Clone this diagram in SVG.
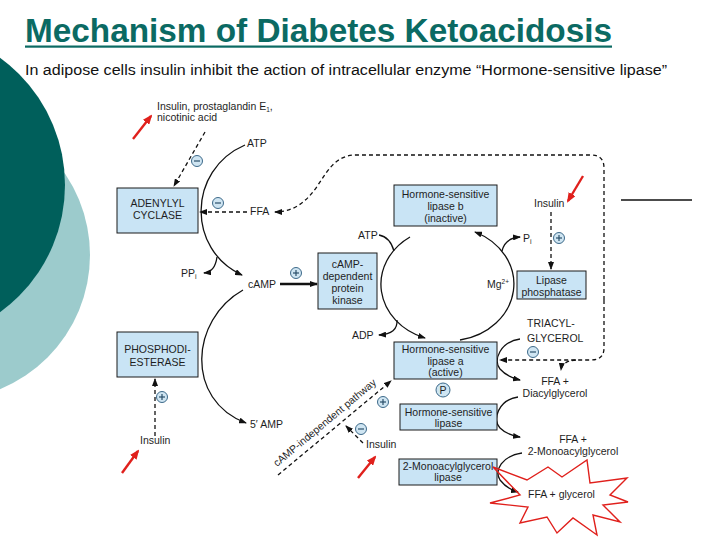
<svg xmlns="http://www.w3.org/2000/svg" xmlns:xlink="http://www.w3.org/1999/xlink" width="728" height="546" viewBox="0 0 728 546">
<style>
.lbl{font-family:"Liberation Sans",Arial,sans-serif;font-size:10.5px;fill:#1e1e1e}
.box{fill:#c9e4f5;stroke:#1a1a1a;stroke-width:1}
.bt{font-family:"Liberation Sans",Arial,sans-serif;font-size:10.5px;fill:#1e1e1e;text-anchor:middle}
.ln{fill:none;stroke:#111;stroke-width:1.3}
.ds{fill:none;stroke:#111;stroke-width:1.3;stroke-dasharray:4 3}
.red{fill:none;stroke:#e0201c;stroke-width:2.4}
</style>
<defs>
<marker id="ah" markerWidth="8" markerHeight="6" refX="7" refY="3" orient="auto" markerUnits="userSpaceOnUse"><path d="M0,0 L8,3 L0,6 z" fill="#111"/></marker>
<marker id="rh" markerWidth="10" markerHeight="8" refX="8" refY="4" orient="auto" markerUnits="userSpaceOnUse"><path d="M0,0 L10,4 L0,8 z" fill="#e0201c"/></marker>
<g id="minus"><circle r="5.5" fill="#cfe5f2" stroke="#3d6a8a" stroke-width="1"/><line x1="-3" y1="0" x2="3" y2="0" stroke="#2b4f6a" stroke-width="1.2"/></g>
<g id="plus"><circle r="5.5" fill="#cfe5f2" stroke="#3d6a8a" stroke-width="1"/><line x1="-3" y1="0" x2="3" y2="0" stroke="#2b4f6a" stroke-width="1.2"/><line x1="0" y1="-3" x2="0" y2="3" stroke="#2b4f6a" stroke-width="1.2"/></g>
</defs>
<rect width="728" height="546" fill="#ffffff"/>
<g id="decor">
<circle cx="-55" cy="255" r="145" fill="#9ccbcc"/>
<circle cx="-92" cy="185" r="157" fill="#005f5b"/>
</g>
<g id="title">
<text x="25" y="42" font-family="'Liberation Sans',Arial,sans-serif" font-size="33" font-weight="bold" fill="#0b6a63" textLength="587" lengthAdjust="spacingAndGlyphs">Mechanism of Diabetes Ketoacidosis</text>
<rect x="25" y="45.5" width="587" height="2.2" fill="#0b6a63"/>
<text x="25" y="75" font-family="'Liberation Sans',Arial,sans-serif" font-size="14" fill="#111" textLength="642" lengthAdjust="spacingAndGlyphs">In adipose cells insulin inhibit the action of intracellular enzyme “Hormone-sensitive lipase”</text>
</g>
<g id="connectors">
<path class="ln" d="M245,145 C187,170 187,250 242,275" marker-end="url(#ah)"/>
<path class="ln" d="M217,257 Q215,272 204,273" marker-end="url(#ah)"/>
<path class="ln" d="M243,290 C190,320 185,400 246,423" marker-end="url(#ah)"/>
<line x1="280" y1="284" x2="317" y2="284" stroke="#111" stroke-width="2.6" marker-end="url(#ah)"/>
<path class="ds" d="M205,132 L174,186" marker-end="url(#ah)"/>
<path class="ds" d="M247,212 L200,212" marker-end="url(#ah)"/>
<path class="ds" d="M604,300 L604,168 Q604,155 591,155 L356,155 C336,155 328,170 318,185 C308,200 295,212 275,212" marker-end="url(#ah)"/>
<path class="ds" d="M604,300 L604,348 Q604,360 591,360 L500,360" marker-end="url(#ah)"/>
<path class="ds" d="M576,360 Q562,361 561,370" marker-end="url(#ah)"/>
<path class="ds" d="M551,212 L551,269" marker-end="url(#ah)"/>
<path class="ln" d="M410,237 A66,57 0 0,0 425,338" marker-end="url(#ah)"/>
<path class="ln" d="M460,340 A66,57 0 0,0 475,232" marker-end="url(#ah)"/>
<path class="ln" d="M379,235 Q390,237 394,251"/>
<path class="ln" d="M502,251 Q505,238 520,237" marker-end="url(#ah)"/>
<path class="ln" d="M397,320 Q398,334 379,335" marker-end="url(#ah)"/>
<path class="ln" d="M520,339 C500,342 493,360 500,369 Q507,377 520,380" marker-end="url(#ah)"/>
<path class="ln" d="M518,397 C498,400 492,420 500,428 Q507,435 520,437" marker-end="url(#ah)"/>
<path class="ln" d="M522,453 C502,456 494,470 500,480 Q507,489 518,492" marker-end="url(#ah)"/>
<path class="ds" d="M278,475 L391,381" marker-end="url(#ah)"/>
<path class="ds" d="M363,443 L346,426" marker-end="url(#ah)"/>
<path class="ds" d="M155,436 L155,379" marker-end="url(#ah)"/>
<line x1="621" y1="200" x2="692" y2="200" stroke="#111" stroke-width="1.3"/>
</g>
<g id="signs">
<use xlink:href="#minus" x="197" y="161"/>
<use xlink:href="#minus" x="218" y="203"/>
<use xlink:href="#plus" x="296" y="273"/>
<use xlink:href="#plus" x="559" y="238"/>
<use xlink:href="#minus" x="533" y="352"/>
<use xlink:href="#plus" x="162" y="397"/>
<use xlink:href="#plus" x="383" y="402"/>
<use xlink:href="#minus" x="361" y="429"/>
<circle cx="443" cy="390" r="7" fill="#cfe5f2" stroke="#3d6a8a" stroke-width="1"/>
<text x="443" y="394" class="bt" font-size="10">P</text>
</g>
<g id="labels">
<text class="lbl" x="157" y="110" font-size="9.5">Insulin, prostaglandin E<tspan font-size="6.5" dy="2">1</tspan><tspan dy="-2">,</tspan></text>
<text class="lbl" x="157" y="121" font-size="9.5">nicotinic acid</text>
<text class="lbl" x="247" y="147">ATP</text>
<text class="lbl" x="250" y="215">FFA</text>
<text class="lbl" x="181" y="277">PP<tspan font-size="7" dy="2">i</tspan></text>
<text class="lbl" x="248" y="288">cAMP</text>
<text class="lbl" x="250" y="428">5′ AMP</text>
<text class="lbl" x="140" y="444">Insulin</text>
<text class="lbl" x="366" y="448">Insulin</text>
<text class="lbl" x="534" y="207">Insulin</text>
<text class="lbl" x="358" y="239">ATP</text>
<text class="lbl" x="352" y="339">ADP</text>
<text class="lbl" x="523" y="242">P<tspan font-size="7" dy="2">i</tspan></text>
<text class="lbl" x="487" y="288" font-size="10">Mg<tspan font-size="6.5" dy="-4">2+</tspan></text>
<text class="lbl" x="527" y="327" font-size="10">TRIACYL-</text>
<text class="lbl" x="527" y="342" font-size="10">GLYCEROL</text>
<text class="lbl" x="555" y="385" text-anchor="middle">FFA +</text>
<text class="lbl" x="555" y="397" text-anchor="middle">Diacylglycerol</text>
<text class="lbl" x="573" y="443" text-anchor="middle">FFA +</text>
<text class="lbl" x="573" y="455" text-anchor="middle">2-Monoacylglycerol</text>
<text class="lbl" x="528" y="498">FFA + glycerol</text>
<text class="lbl" x="0" y="0" font-size="10.5" textLength="130" lengthAdjust="spacingAndGlyphs" transform="translate(277,467) rotate(-39.8)">cAMP-independent pathway</text>
</g>
<g id="adenylyl-cyclase"><rect class="box" x="117" y="188" width="81" height="45"/><text class="bt" x="157.5" y="207">ADENYLYL</text><text class="bt" x="157.5" y="219">CYCLASE</text></g>
<g id="phosphodiesterase"><rect class="box" x="117" y="332" width="81" height="45"/><text class="bt" x="157.5" y="353">PHOSPHODI-</text><text class="bt" x="157.5" y="366">ESTERASE</text></g>
<g id="pka"><rect class="box" x="318" y="253" width="59" height="56"/><text class="bt" x="347.5" y="268">cAMP-</text><text class="bt" x="347.5" y="280">dependent</text><text class="bt" x="347.5" y="292">protein</text><text class="bt" x="347.5" y="304">kinase</text></g>
<g id="hsl-b"><rect class="box" x="394" y="185" width="103" height="41"/><text class="bt" x="445.5" y="198">Hormone-sensitive</text><text class="bt" x="445.5" y="210">lipase b</text><text class="bt" x="445.5" y="222">(inactive)</text></g>
<g id="lipase-phosphatase"><rect class="box" x="517" y="271" width="69" height="28"/><text class="bt" x="551.5" y="284">Lipase</text><text class="bt" x="551.5" y="296">phosphatase</text></g>
<g id="hsl-a"><rect class="box" x="394" y="342" width="103" height="37"/><text class="bt" x="445.5" y="353">Hormone-sensitive</text><text class="bt" x="445.5" y="365">lipase a</text><text class="bt" x="445.5" y="376">(active)</text></g>
<g id="hsl"><rect class="box" x="400" y="404" width="97" height="26"/><text class="bt" x="448.5" y="415.5">Hormone-sensitive</text><text class="bt" x="448.5" y="427">lipase</text></g>
<g id="mag-lipase"><rect class="box" x="399" y="459" width="98" height="26"/><text class="bt" x="448" y="469.5">2-Monoacylglycerol</text><text class="bt" x="448" y="481">lipase</text></g>
<g id="highlights">
<path class="red" d="M133,139 L151,116" marker-end="url(#rh)"/>
<path class="red" d="M583,176 L568,201" marker-end="url(#rh)"/>
<path class="red" d="M122,473 L138,451" marker-end="url(#rh)"/>
<path class="red" d="M358,478 L375,457" marker-end="url(#rh)"/>
<polygon fill="none" stroke="#e0201c" stroke-width="1.4" points="493,467 527,480 548,467 562,477 587,460 590,483 627,478 610,495 628,502 603,505 620,522 593,515 597,535 573,518 557,533 547,517 520,523 528,507 490,503 520,495"/>
</g>
</svg>
